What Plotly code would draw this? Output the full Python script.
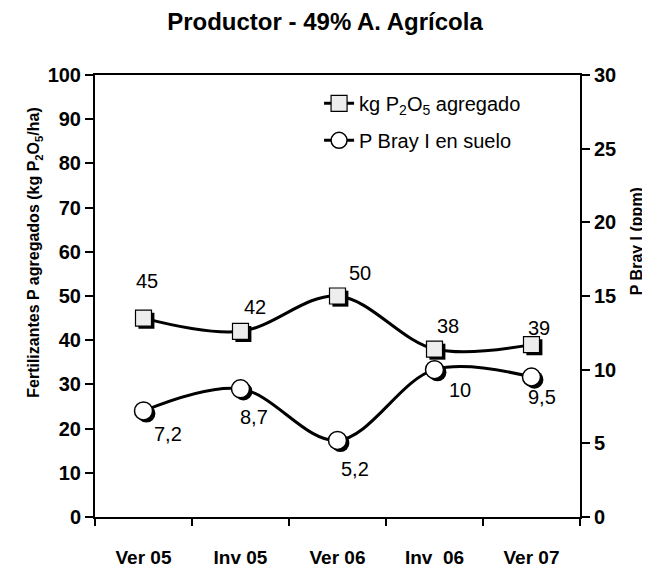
import plotly.graph_objects as go

# data
periodos = ["Ver 05", "Inv 05", "Ver 06", "Inv  06", "Ver 07"]
kg_p2o5 = [45, 42, 50, 38, 39]
p_bray = [7.2, 8.7, 5.2, 10, 9.5]
p_bray_txt = ["7,2", "8,7", "5,2", "10", "9,5"]

# label offsets in px (dx, dy) relative to each marker
off_kg = [(3, 37), (14, 24), (22, 23), (13, 23), (7, 17)]
off_bray = [(24, -23), (13, -28), (17, -29), (25, -20), (10, -20)]

x = list(range(len(periodos)))
font = "Arial, Liberation Sans, sans-serif"

# the page body adds an 8px margin, so the figure is 8px smaller on each side
W, H = 642, 572
# plot area in window pixels: x 95..580, y 75..535
def px_x(p):
    return (p - 95) / 485

def px_y(p):
    return (535 - p) / 460

fig = go.Figure()

# drop shadows (small offset of the same points)
fig.add_trace(go.Scatter(
    x=[v + 0.03 for v in x], y=[v - 0.6 for v in kg_p2o5],
    mode='markers', showlegend=False, hoverinfo='skip',
    marker=dict(symbol='square', size=16, color='black')
))
fig.add_trace(go.Scatter(
    x=[v + 0.03 for v in x], y=[v - 0.18 for v in p_bray], yaxis='y2',
    mode='markers', showlegend=False, hoverinfo='skip',
    marker=dict(symbol='circle', size=18, color='black')
))

fig.add_trace(go.Scatter(
    x=x, y=kg_p2o5, name='kg P<sub>2</sub>O<sub>5</sub> agregado',
    mode='lines+markers', line=dict(color='black', width=3, shape='spline'),
    marker=dict(symbol='square', size=16, color='#ededed', line=dict(color='black', width=1.2)),
    legendgroup='a'
))
fig.add_trace(go.Scatter(
    x=x, y=p_bray, name='P Bray I en suelo', yaxis='y2',
    mode='lines+markers', line=dict(color='black', width=3, shape='spline'),
    marker=dict(symbol='circle', size=18, color='white', line=dict(color='black', width=1.5)),
    legendgroup='b'
))

annotations = []
for i, v in enumerate(kg_p2o5):
    annotations.append(dict(x=x[i], y=v, xref='x', yref='y', text=str(v), showarrow=False,
                            xshift=off_kg[i][0], yshift=off_kg[i][1],
                            font=dict(family=font, size=20, color='black')))
for i, v in enumerate(p_bray):
    annotations.append(dict(x=x[i], y=v, xref='x', yref='y2', text=p_bray_txt[i], showarrow=False,
                            xshift=off_bray[i][0], yshift=off_bray[i][1],
                            font=dict(family=font, size=20, color='black')))

# axis titles
annotations.append(dict(x=px_x(35), y=px_y(260), xref='paper', yref='paper',
                        text='<b>Fertilizantes P agregados (kg P<sub>2</sub>O<sub>5</sub>/ha)</b>',
                        showarrow=False, textangle=-90, xanchor='center', yanchor='middle',
                        font=dict(family=font, size=16, color='black')))
annotations.append(dict(x=px_x(636), y=px_y(248), xref='paper', yref='paper',
                        text='<b>P Bray I (ppm)</b>',
                        showarrow=False, textangle=-90, xanchor='center', yanchor='middle',
                        font=dict(family=font, size=16, color='black')))

fig.update_layout(
    width=W, height=H,
    margin=dict(l=87, r=70, t=67, b=45),
    paper_bgcolor='white', plot_bgcolor='white',
    title=dict(text='<b>Productor - 49% A. Agrícola</b>', x=(325 - 8) / W, xanchor='center',
               y=1 - 14 / H, yanchor='middle',
               font=dict(family=font, size=24, color='black')),
    font=dict(family=font, color='black'),
    showlegend=True,
    legend=dict(x=0.462, y=0.98, xanchor='left', yanchor='top', bgcolor='rgba(0,0,0,0)',
                font=dict(family=font, size=20, color='black'), tracegroupgap=8),
    xaxis=dict(range=[-0.5, 4.5], tickvals=x, ticktext=['<b>' + t + '</b>' for t in periodos], ticks='',
               showline=True, linecolor='black', linewidth=2, mirror=True, showgrid=False, zeroline=False,
               tickfont=dict(family=font, size=19, color='black'), ticklabelstandoff=22,
               minor=dict(tick0=-0.5, dtick=1, ticks='outside', ticklen=7, tickcolor='black', tickwidth=2)),
    yaxis=dict(range=[0, 100], dtick=10, ticks='outside', ticklen=8, tickwidth=2, tickcolor='black',
               showline=True, linecolor='black', linewidth=2, showgrid=False, zeroline=False,
               tickprefix='<b>', ticksuffix='</b>',
               tickfont=dict(family=font, size=20, color='black')),
    yaxis2=dict(range=[0, 30], dtick=5, overlaying='y', side='right', ticks='outside', ticklen=8,
                tickwidth=2, tickcolor='black', showline=True, linecolor='black', linewidth=2,
                tickprefix='<b>', ticksuffix='</b>',
                showgrid=False, zeroline=False, tickfont=dict(family=font, size=20, color='black')),
    annotations=annotations,
)

fig.write_html("out.html")
